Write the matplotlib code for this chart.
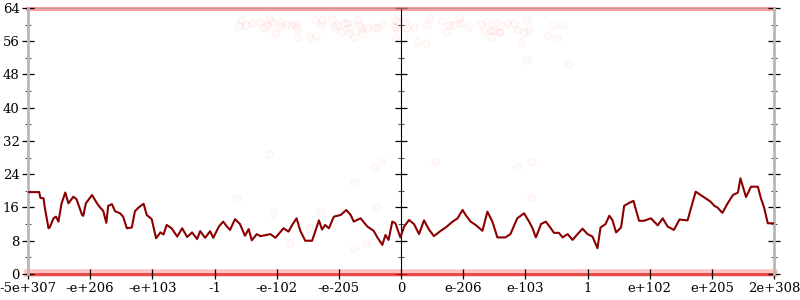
import numpy as np
import matplotlib
matplotlib.use('Agg')
from matplotlib import pyplot as plt

# x positions are in tick-slot units (0 .. 12), y is error in bits
tick_labels = ['-5e+307', '-e+206', '-e+103', '-1', '-e-102', '-e-205', '0',
               'e-206', 'e-103', '1', 'e+102', 'e+205', '2e+308']
y_ticks = [0, 8, 16, 24, 32, 40, 48, 56, 64]

line_x = [0.00, 0.18, 0.20, 0.25, 0.27, 0.33, 0.35, 0.41, 0.45, 0.49, 0.54, 0.60,
          0.65, 0.73, 0.78, 0.87, 0.89, 0.93, 0.97, 1.03, 1.11, 1.16, 1.21, 1.26,
          1.29, 1.35, 1.40, 1.48, 1.53, 1.59, 1.67, 1.72, 1.78, 1.86, 1.91, 1.99,
          2.06, 2.13, 2.18, 2.23, 2.31, 2.40, 2.48, 2.56, 2.64, 2.72, 2.77, 2.85,
          2.93, 2.98, 3.07, 3.14, 3.20, 3.25, 3.33, 3.41, 3.49, 3.55, 3.60, 3.68,
          3.74, 3.90, 3.98, 4.11, 4.19, 4.25, 4.32, 4.38, 4.46, 4.57, 4.68, 4.73,
          4.78, 4.84, 4.92, 5.03, 5.12, 5.19, 5.24, 5.35, 5.46, 5.56, 5.62, 5.70,
          5.75, 5.80, 5.86, 5.91, 5.99, 6.05, 6.13, 6.21, 6.29, 6.37, 6.45, 6.53,
          6.64, 6.72, 6.83, 6.91, 6.99, 7.04, 7.12, 7.20, 7.31, 7.39, 7.47, 7.55,
          7.68, 7.76, 7.87, 7.98, 8.06, 8.11, 8.17, 8.24, 8.25, 8.33, 8.41, 8.46,
          8.54, 8.60, 8.68, 8.76, 8.84, 8.92, 9.00, 9.08, 9.16, 9.21, 9.29, 9.35,
          9.40, 9.46, 9.54, 9.59, 9.67, 9.74, 9.78, 9.83, 9.91, 10.02, 10.13, 10.21,
          10.29, 10.39, 10.48, 10.61, 10.66, 10.74, 10.82, 10.90, 10.98, 11.04,
          11.09, 11.17, 11.25, 11.34, 11.42, 11.46, 11.50, 11.55, 11.63, 11.74,
          11.79, 11.84, 11.90, 12.00]
line_y = [19.7, 19.7, 18.3, 18.2, 16.0, 11.0, 11.2, 13.4, 13.8, 12.6, 17.0, 19.6,
          17.0, 18.6, 18.0, 14.2, 14.0, 17.0, 17.8, 19.0, 17.0, 16.0, 15.2, 12.3,
          16.4, 16.8, 15.1, 14.6, 13.8, 11.0, 11.2, 15.1, 16.0, 16.9, 14.2, 13.2,
          8.6, 10.0, 9.5, 11.8, 11.0, 9.0, 11.0, 8.9, 10.0, 8.4, 10.3, 8.7,
          10.3, 8.7, 11.4, 12.6, 11.4, 10.6, 13.2, 12.0, 9.2, 10.8, 8.1, 9.6,
          9.1, 9.6, 8.7, 11.0, 10.2, 11.8, 13.4, 10.4, 8.0, 8.0, 12.9, 10.7,
          11.8, 11.0, 13.8, 14.2, 15.4, 14.2, 12.6, 13.4, 11.4, 10.4, 8.8, 7.0,
          9.4, 8.2, 12.6, 12.2, 8.8, 11.4, 13.0, 12.0, 9.6, 12.9, 10.7, 9.1,
          10.4, 11.2, 12.6, 13.4, 15.4, 14.2, 12.6, 11.8, 10.4, 15.0, 12.6, 8.8,
          8.8, 9.6, 13.4, 14.6, 12.6, 11.2, 8.8, 11.5, 12.0, 12.6, 11.0, 9.9,
          9.9, 8.8, 9.6, 8.2, 9.6, 10.9, 9.6, 9.0, 6.2, 11.2, 12.0, 14.0,
          13.0, 10.0, 11.2, 16.4, 17.1, 17.6, 15.4, 12.8, 12.8, 13.4, 11.7, 13.4,
          11.4, 10.6, 13.1, 12.9, 15.6, 19.8, 19.0, 18.2, 17.4, 16.4,
          16.0, 14.7, 16.9, 19.0, 19.6, 23.0, 21.0, 18.5, 21.0, 21.0,
          18.2, 16.0, 12.2, 12.2]

# faint individual samples away from the 0 / 64 bands
pts_x = [3.42, 3.40, 3.51, 3.60, 3.73, 3.80, 3.85, 3.87, 3.93, 3.98, 4.06, 4.06,
         4.16, 4.23, 4.29, 4.33, 4.35, 4.54, 4.62, 4.64, 4.73, 4.73, 4.89, 4.92,
         4.97, 5.03, 5.08, 5.13, 5.18, 5.16, 5.24, 5.30, 5.32, 5.35, 5.38, 5.46,
         5.56, 5.62, 5.70, 5.91, 5.94, 5.91, 5.88, 5.93, 6.07, 6.10, 6.21, 6.25,
         6.40, 6.46, 6.40, 6.66, 6.72, 6.77, 6.83, 6.93, 6.96, 7.09, 7.28, 7.39,
         7.44, 7.55, 7.58, 7.33, 7.44, 7.50, 7.60, 7.71, 7.81, 7.86, 7.98, 8.03,
         8.06, 7.93, 8.36, 8.45, 8.51, 8.59, 8.03, 8.70,
         3.36, 3.87, 5.56, 5.68, 6.54, 7.86, 8.10, 8.09, 5.62, 3.94, 4.69, 4.52,
         4.22, 5.24, 5.46, 5.24]
pts_y = [61.1, 59.7, 59.9, 60.3, 60.7, 59.1, 59.9, 61.3, 60.7, 57.9, 60.7, 59.7,
         60.2, 59.9, 59.9, 59.1, 57.0, 57.1, 61.1, 57.3, 61.1, 59.9, 61.3, 59.4,
         59.9, 58.3, 60.3, 60.3, 59.1, 57.9, 57.1, 61.1, 59.9, 59.1, 57.9, 59.1,
         59.5, 59.1, 60.2, 61.1, 59.1, 56.7, 59.5, 60.9, 60.7, 59.1, 59.4, 55.9,
         55.5, 61.5, 59.9, 60.9, 58.3, 59.9, 59.9, 61.5, 60.3, 59.4, 60.2, 60.7,
         57.1, 60.7, 58.3, 58.5, 58.7, 58.7, 58.3, 60.5, 60.3, 58.7, 58.3, 61.1,
         58.7, 55.9, 57.5, 59.9, 56.7, 59.9, 51.5, 50.5,
         18.4, 28.9, 25.8, 27.4, 27.3, 25.8, 27.0, 18.2, 16.2, 14.7, 15.0, 11.0,
         7.5, 22.2, 7.5, 6.2]

# dense clouds of samples sitting on the bounds
band_levels = [0, 64]

plt.rcParams['font.family'] = 'DejaVu Serif'
fig = plt.figure(figsize=(8, 3), dpi=100)
ax = fig.add_axes([0.035, 0.0867, 0.9325, 0.8867])

# bands of overlapping translucent points
ax.axhline(band_levels[0] + 0.35, color='#ff2a2a', lw=5.5, alpha=0.28, zorder=1,
           clip_on=False)
ax.axhline(band_levels[0], color='#e01818', lw=2.0, alpha=0.75, zorder=1,
           clip_on=False)
ax.axhline(band_levels[1] - 0.25, color='#ff2a2a', lw=3.0, alpha=0.45, zorder=1,
           clip_on=False)
ax.axhline(band_levels[1], color='#999999', lw=0.8, alpha=0.6, zorder=1,
           clip_on=False)

ax.scatter(pts_x, pts_y, s=28, facecolor=(1, 0, 0, 0.015),
           edgecolor=(1, 0, 0, 0.055), linewidths=0.8, zorder=1)

ax.plot(line_x, line_y, color='#8b0000', lw=1.5, zorder=3)

ax.set_xlim(0, 12)
ax.set_ylim(0, 64)

# spines
for s in ['left', 'right']:
    ax.spines[s].set_color('#b8b8b8')
    ax.spines[s].set_linewidth(2.0)
for s in ['top', 'bottom']:
    ax.spines[s].set_visible(False)

ax.set_xticks(range(len(tick_labels)))
ax.set_xticklabels(tick_labels)
ax.set_yticks(y_ticks)
ax.set_yticks([v + 4 for v in y_ticks[:-1]], minor=True)
ax.tick_params(axis='both', which='major', direction='inout', length=8,
               width=0.9, color='black', labelsize=9.5, pad=2)
ax.tick_params(axis='y', which='major', right=True)
ax.tick_params(axis='y', which='minor', direction='inout', length=4,
               width=0.8, color='#555555', right=True)
ax.tick_params(axis='x', which='major', length=7)

# centre axis at zero
mid = ax.secondary_yaxis(0.5)
mid.spines['left'].set_color('#666666')
mid.spines['left'].set_linewidth(1.0)
mid.set_yticks(y_ticks)
mid.set_yticks([v + 4 for v in y_ticks[:-1]], minor=True)
mid.set_yticklabels([])
mid.tick_params(axis='y', which='major', direction='inout', length=8,
                width=0.9, color='black')
mid.tick_params(axis='y', which='minor', direction='inout', length=4,
                width=0.8, color='#555555')

fig.savefig('out.png', dpi=100)
